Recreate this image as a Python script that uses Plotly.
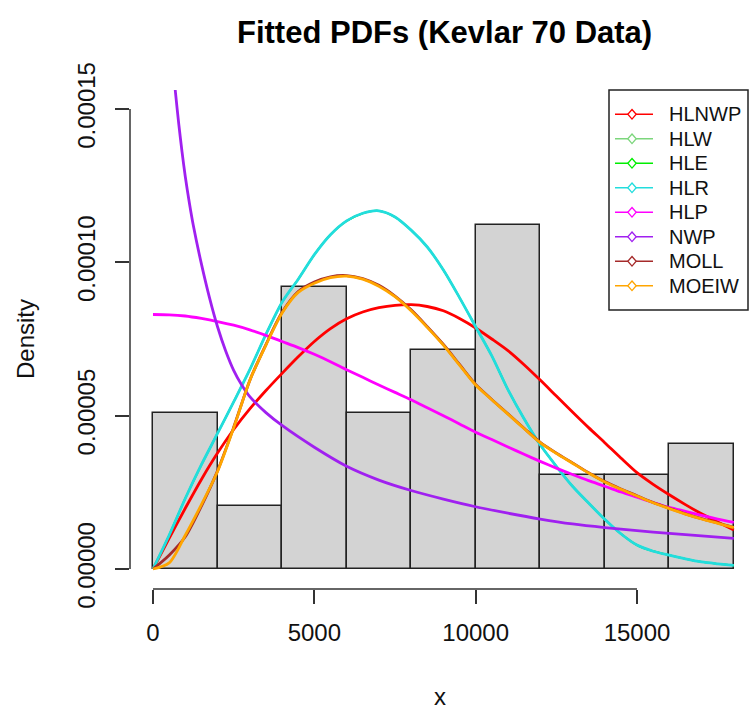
import plotly.graph_objects as go

# ---- histogram of the Kevlar data (bin width 2000) ----
bin_left = [0, 2000, 4000, 6000, 8000, 10000, 12000, 14000, 16000]
bin_width = 2000
counts = [5, 2, 9, 5, 7, 11, 3, 3, 4]
n_obs = sum(counts)
bin_centers = [b + bin_width / 2 for b in bin_left]
density = [c / (n_obs * bin_width) for c in counts]

# ---- fitted densities (values in units of 1e-5) ----
x_grid = [0, 500, 1000, 1500, 2000, 2500, 3000, 3500, 4000, 4500, 5000,
          5500, 6000, 6500, 7000, 7500, 8000, 8500, 9000, 9500, 10000,
          10500, 11000, 11500, 12000, 12500, 13000, 13500, 14000, 14500,
          15000, 15500, 16000, 16500, 17000, 17500, 18000]

hlnwp = [0.0, 1.0, 1.98, 2.92, 3.78, 4.55, 5.22, 5.82, 6.38, 6.92, 7.42,
         7.84, 8.16, 8.38, 8.52, 8.6, 8.62, 8.56, 8.42, 8.17, 7.86,
         7.5, 7.12, 6.66, 6.16, 5.64, 5.12, 4.61, 4.12, 3.62,
         3.14, 2.76, 2.42, 2.1, 1.8, 1.53, 1.27]

hlr = [0.0, 1.1, 2.3, 3.4, 4.42, 5.45, 6.5, 7.65, 8.7, 9.45, 10.25,
       10.9, 11.35, 11.6, 11.68, 11.48, 11.05, 10.5, 9.75, 8.85, 7.9,
       6.95, 5.85, 4.9, 4.05, 3.35, 2.7, 2.15, 1.62, 1.15,
       0.78, 0.58, 0.45, 0.33, 0.23, 0.17, 0.12]

# HLW and HLE coincide with the HLR fit
hlw = [0.0, 1.1, 2.3, 3.4, 4.42, 5.45, 6.5, 7.65, 8.7, 9.45, 10.25,
       10.9, 11.35, 11.6, 11.68, 11.48, 11.05, 10.5, 9.75, 8.85, 7.9,
       6.95, 5.85, 4.9, 4.05, 3.35, 2.7, 2.15, 1.62, 1.15,
       0.78, 0.58, 0.45, 0.33, 0.23, 0.17, 0.12]
hle = [0.0, 1.1, 2.3, 3.4, 4.42, 5.45, 6.5, 7.65, 8.7, 9.45, 10.25,
       10.9, 11.35, 11.6, 11.68, 11.48, 11.05, 10.5, 9.75, 8.85, 7.9,
       6.95, 5.85, 4.9, 4.05, 3.35, 2.7, 2.15, 1.62, 1.15,
       0.78, 0.58, 0.45, 0.33, 0.23, 0.17, 0.12]

hlp = [8.3, 8.29, 8.25, 8.17, 8.07, 7.95, 7.8, 7.62, 7.42, 7.22, 7.0,
       6.76, 6.5, 6.25, 6.0, 5.76, 5.52, 5.26, 5.0, 4.73, 4.46,
       4.22, 3.98, 3.74, 3.51, 3.29, 3.08, 2.88, 2.7, 2.51,
       2.34, 2.17, 2.01, 1.88, 1.75, 1.63, 1.52]

moeiw = [0.0, 0.2, 1.1, 2.1, 3.18, 4.6, 6.15, 7.3, 8.35, 9.02, 9.32,
         9.5, 9.55, 9.45, 9.22, 8.88, 8.42, 7.88, 7.3, 6.65, 6.0,
         5.52, 5.05, 4.58, 4.12, 3.77, 3.45, 3.13, 2.84, 2.6,
         2.38, 2.16, 1.97, 1.79, 1.63, 1.49, 1.35]

moll = [0.0, 0.45, 1.05, 2.05, 3.2, 4.62, 6.15, 7.32, 8.37, 9.05, 9.36,
        9.53, 9.57, 9.47, 9.25, 8.9, 8.45, 7.9, 7.32, 6.67, 6.02,
        5.53, 5.06, 4.59, 4.13, 3.78, 3.46, 3.14, 2.85, 2.61,
        2.39, 2.17, 1.98, 1.8, 1.64, 1.5, 1.36]

# NWP is unbounded near zero; grid is denser where it falls steeply
nwp_x = [600, 700, 800, 900, 1000, 1125, 1250, 1500, 1750, 2000, 2250, 2500,
         2750, 3000, 3500, 4000, 5000, 6000, 7000, 8000, 9000, 10000, 11000,
         12000, 13000, 14000, 15000, 16000, 17000, 18000]
nwp = [16.6, 15.5, 14.5, 13.6, 12.8, 11.95, 11.2, 9.95, 8.85, 7.9, 7.12, 6.48,
       6.0, 5.62, 5.1, 4.68, 3.97, 3.35, 2.9, 2.56, 2.28, 2.03, 1.82,
       1.63, 1.47, 1.35, 1.25, 1.16, 1.08, 1.0]

scale = 1e-5
# (name, colour, x values, y values, line width)
series = [
    ("HLNWP", "#FF0000", x_grid, hlnwp, 2.8),
    ("HLW", "#7CD67C", x_grid, hlw, 1.8),
    ("HLE", "#00EE00", x_grid, hle, 1.8),
    ("HLR", "#22DDDD", x_grid, hlr, 2.8),
    ("HLP", "#FF00FF", x_grid, hlp, 2.8),
    ("NWP", "#A020F0", nwp_x, nwp, 2.8),
    ("MOLL", "#A52A2A", x_grid, moll, 2.8),
    ("MOEIW", "#FFA500", x_grid, moeiw, 2.8),
]

FONT = "Liberation Sans, Arial, sans-serif"

# plot-area geometry in pixels (used to place the legend box in paper units)
W, H = 749, 708
M_L, M_R, M_T, M_B = 130, 1, 90, 119
PW, PH = W - M_L - M_R, H - M_T - M_B


def px_x(p):
    return (p - M_L) / PW


def px_y(p):
    return (H - M_B - p) / PH


fig = go.Figure()
fig.add_trace(go.Bar(
    x=bin_centers, y=density, width=bin_width,
    marker=dict(color="#D3D3D3", line=dict(color="#222222", width=1.5)),
    showlegend=False, hoverinfo="skip",
))

for name, color, xs, ys, lw in series:
    fig.add_trace(go.Scatter(
        x=xs, y=[v * scale for v in ys], mode="lines",
        line=dict(color=color, width=lw, shape="spline", smoothing=0.8),
        showlegend=False, name=name,
    ))

# ---- base-R style legend box: line + open diamond + label ----
shapes = [
    dict(type="line", xref="x", yref="paper", x0=0, x1=15000, y0=0, y1=0,
         line=dict(color="#333333", width=1.5)),
    dict(type="line", xref="paper", yref="y", x0=0, x1=0, y0=0, y1=0.00015,
         line=dict(color="#333333", width=1.5)),
    dict(type="rect", xref="paper", yref="paper",
         x0=px_x(609), x1=px_x(748), y0=px_y(310), y1=px_y(90),
         line=dict(color="#222222", width=1.5), fillcolor="white", layer="above"),
]
annotations = []
row0, row_step = 114.3, 24.5
for i, (name, color, _, _, _) in enumerate(series):
    ry = row0 + i * row_step
    shapes.append(dict(type="line", xref="paper", yref="paper",
                       x0=px_x(615), x1=px_x(653), y0=px_y(ry), y1=px_y(ry),
                       line=dict(color=color, width=1.5), layer="above"))
    cx, dx, dy = 632, 4.2, 4.8
    path = "M {:.5f},{:.5f} L {:.5f},{:.5f} L {:.5f},{:.5f} L {:.5f},{:.5f} Z".format(
        px_x(cx), px_y(ry - dy), px_x(cx + dx), px_y(ry),
        px_x(cx), px_y(ry + dy), px_x(cx - dx), px_y(ry))
    shapes.append(dict(type="path", xref="paper", yref="paper", path=path,
                       line=dict(color=color, width=1.3), fillcolor="white",
                       layer="above"))
    annotations.append(dict(text=name, xref="paper", yref="paper",
                            x=px_x(667), y=px_y(ry), xanchor="left", yanchor="middle",
                            showarrow=False,
                            font=dict(family=FONT, size=20, color="#111111")))

annotations += [
    dict(text="<b>Fitted PDFs (Kevlar 70 Data)</b>", xref="paper", yref="paper",
         x=px_x(444), y=px_y(32), xanchor="center", yanchor="middle", showarrow=False,
         font=dict(family=FONT, size=31, color="#000000")),
    dict(text="x", xref="paper", yref="paper", x=px_x(440), y=px_y(696),
         xanchor="center", yanchor="middle", height=22, valign="middle",
         showarrow=False, font=dict(family=FONT, size=24, color="#111111")),
    dict(text="Density", xref="paper", yref="paper", x=px_x(25), y=px_y(339),
         xanchor="center", yanchor="middle", textangle=-90, showarrow=False,
         font=dict(family=FONT, size=24, color="#111111")),
]

x_ticks = [0, 5000, 10000, 15000]
y_ticks = [0, 0.00005, 0.0001, 0.00015]
y_tick_text = ["0.00000", "0.00005", "0.00010", "0.00015"]

axis_font = dict(family=FONT, size=24, color="#111111")

fig.update_layout(
    width=W, height=H,
    margin=dict(l=M_L, r=M_R, t=M_T, b=M_B),
    paper_bgcolor="white", plot_bgcolor="white",
    font=dict(family=FONT, color="#111111"),
    bargap=0, showlegend=False,
    xaxis=dict(
        range=[-712.8, 18440], tickvals=x_ticks,
        ticktext=[str(t) for t in x_ticks],
        ticks="outside", ticklen=14, tickwidth=1.5, tickcolor="#333333",
        showgrid=False, zeroline=False, showline=False,
        tickfont=axis_font, ticklabelstandoff=8,
    ),
    yaxis=dict(
        range=[-0.652e-5, 15.62e-5], tickvals=y_ticks, ticktext=y_tick_text,
        tickangle=-90,
        ticks="outside", ticklen=14, tickwidth=1.5, tickcolor="#333333",
        showgrid=False, zeroline=False, showline=False,
        tickfont=axis_font, ticklabelstandoff=10,
    ),
    shapes=shapes,
    annotations=annotations,
)

fig.write_html("out.html")
